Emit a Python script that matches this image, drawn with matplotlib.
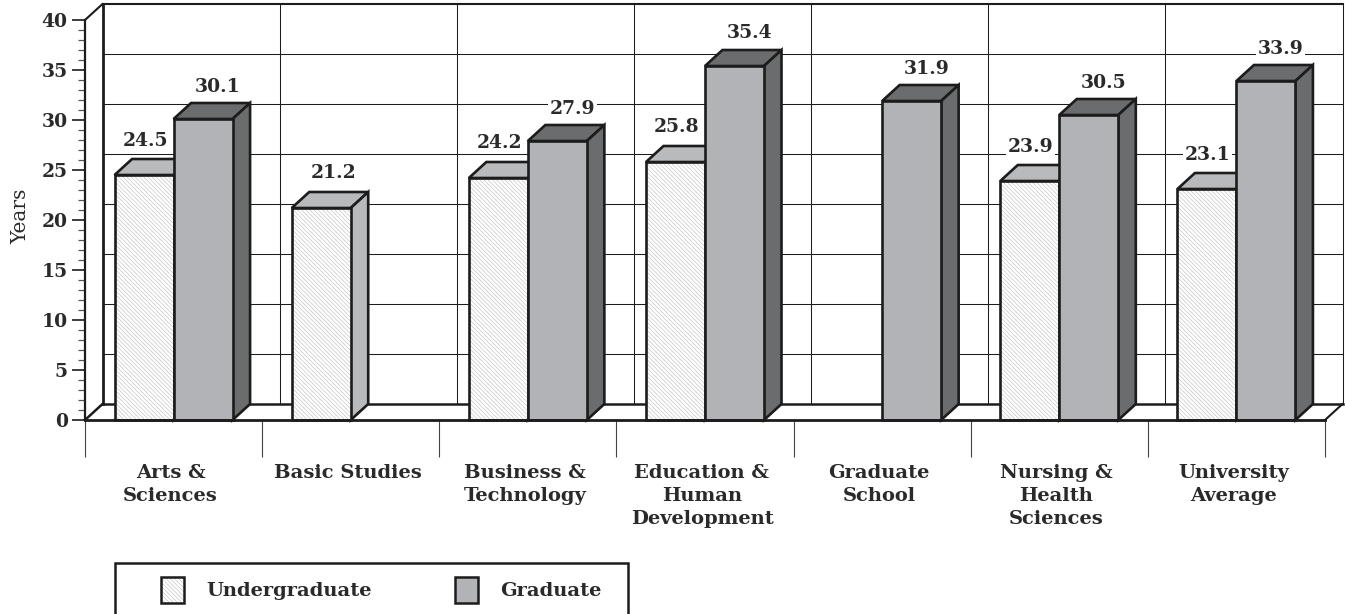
import numpy as np
import matplotlib
matplotlib.use("Agg")
import matplotlib.pyplot as plt
from matplotlib.patches import Polygon, Rectangle, Patch
from matplotlib.legend_handler import HandlerTuple
from matplotlib.transforms import ScaledTranslation

categories = ["Arts &\nSciences", "Basic Studies", "Business &\nTechnology",
              "Education &\nHuman\nDevelopment", "Graduate\nSchool",
              "Nursing &\nHealth\nSciences", "University\nAverage"]
undergraduate = [24.5, 21.2, 24.2, 25.8, np.nan, 23.9, 23.1]
graduate = [30.1, np.nan, 27.9, 35.4, 31.9, 30.5, 33.9]

W, H = 1345, 614
FONT = "DejaVu Serif"
INK = "#2a2a2a"
LINE = "#1c1c1c"
HATCH = "\\\\\\\\\\\\\\\\"
HATCH_COL = "#b0b0b0"
plt.rcParams["font.family"] = FONT
plt.rcParams["font.weight"] = "bold"
plt.rcParams["hatch.linewidth"] = 0.35

fig = plt.figure(figsize=(W / 100, H / 100), dpi=100, facecolor="white")
ax = fig.add_axes([85 / W, 1 - 420 / H, 1240 / W, 400 / H])
n = len(categories)
ax.set_xlim(0, n)
ax.set_ylim(0, 40)
ax.patch.set_visible(False)

dx = 17.5 / (1240 / n)
dy = 1.6
bw = 59 / (1240 / n)

# back wall, grid, floor
for v in range(5, 40, 5):
    ax.plot([dx, n + dx], [v + dy, v + dy], color=LINE, lw=0.75, zorder=1, clip_on=False)
for c in range(1, n + 1):
    ax.plot([c + dx, c + dx], [dy, 40 + dy], color=LINE, lw=0.75, zorder=1, clip_on=False)
ax.plot([dx, dx], [dy, 40 + dy], color=LINE, lw=2, zorder=1.5, clip_on=False)
ax.plot([dx, n + dx], [40 + dy, 40 + dy], color=LINE, lw=1.5, zorder=1.5, clip_on=False)
ax.plot([dx, n + dx], [dy, dy], color=LINE, lw=1.8, zorder=1.5, clip_on=False)
ax.plot([0, dx], [40, 40 + dy], color=LINE, lw=1.5, zorder=1.5, clip_on=False)
ax.plot([0, dx], [0, dy], color=LINE, lw=1.8, zorder=1.5, clip_on=False)
ax.plot([n, n + dx], [0, dy], color=LINE, lw=1.5, zorder=1.5, clip_on=False)


def bar3d(x0, v, front_hatched, top_col, side_col, z):
    ec = dict(edgecolor=LINE, linewidth=1.9, joinstyle="miter", zorder=z, clip_on=False)
    ax.add_patch(Polygon([(x0, v), (x0 + bw, v), (x0 + bw + dx, v + dy), (x0 + dx, v + dy)],
                         closed=True, facecolor=top_col, **ec))
    ax.add_patch(Polygon([(x0 + bw, 0), (x0 + bw + dx, dy), (x0 + bw + dx, v + dy), (x0 + bw, v)],
                         closed=True, facecolor=side_col, **ec))
    if front_hatched:
        ax.bar(x0, v, bw, align="edge", color="white", edgecolor=HATCH_COL, hatch=HATCH,
               linewidth=0, zorder=z, clip_on=False)
        ax.bar(x0, v, bw, align="edge", fill=False, edgecolor=LINE, linewidth=1.9, zorder=z, clip_on=False)
    else:
        ax.bar(x0, v, bw, align="edge", color="#b2b3b7", edgecolor=LINE, linewidth=1.9, zorder=z, clip_on=False)


def label(x, v, off_x, off_y):
    ax.annotate(f"{v:.1f}", (x, v), xytext=(off_x * 0.72, off_y * 0.72), textcoords="offset points",
                ha="center", va="center", fontsize=13.5, color=INK, zorder=50,
                bbox=dict(facecolor="white", edgecolor="none", pad=1.2), annotation_clip=False)


for i in range(n):
    c = i + 0.5
    u, g = undergraduate[i], graduate[i]
    z = 10 + i * 3
    if not np.isnan(u):
        bar3d(c - bw, u, True, "#b9babc", "#b9babc", z)
        label(c - bw / 2, u, 1 if not np.isnan(g) else 12, 34.5)
    if not np.isnan(g):
        bar3d(c, g, False, "#6b6c6e", "#6b6c6e", z + 1)
        label(c + bw / 2, g, 15, 32.5)

# axes
for s in ("top", "right"):
    ax.spines[s].set_visible(False)
ax.spines["left"].set_linewidth(1.6)
ax.spines["left"].set_color(LINE)
ax.spines["bottom"].set_linewidth(2)
ax.spines["bottom"].set_color(LINE)
ax.spines["bottom"].set_zorder(40)
ax.spines["left"].set_zorder(40)

ax.set_yticks(np.arange(0, 41, 5))
ax.set_yticks(np.arange(0, 41, 1), minor=True)
ax.tick_params(axis="y", which="major", length=9.5, width=1.2, color=LINE, pad=3,
               labelsize=13.5, labelcolor=INK)
ax.tick_params(axis="y", which="minor", length=5, width=0.9, color="#555555")
ax.set_ylabel("Years", fontsize=14.5, color=INK)
ax.yaxis.set_label_coords((30 - 85) / 1240, (420 - 216) / 400)

ax.set_xticks(np.arange(0, n + 1))
ax.set_xticklabels([""] * (n + 1))
ax.set_xticks(np.arange(n) + 0.5, minor=True)
ax.set_xticklabels(categories, minor=True, fontsize=14, color=INK, linespacing=1.35)
ax.tick_params(axis="x", which="major", length=26.6, width=0.8, color="#444444")
ax.tick_params(axis="x", which="minor", length=0, pad=32)
shift = ScaledTranslation(-3 / 100, 0, fig.dpi_scale_trans)
for t in ax.get_xticklabels(minor=True):
    t.set_transform(t.get_transform() + shift)

# legend
fig.add_artist(Rectangle((115 / W, 1 - 640 / H), 513 / W, 77 / H, transform=fig.transFigure,
                         facecolor="white", edgecolor=LINE, linewidth=1.8))
under_handle = (Patch(facecolor="white", edgecolor=HATCH_COL, linewidth=0, hatch=HATCH),
                Patch(fill=False, edgecolor=LINE, linewidth=1.8))
grad_handle = Patch(facecolor="#b2b3b7", edgecolor=LINE, linewidth=1.8)
leg = fig.legend(handles=[under_handle, grad_handle], labels=["Undergraduate", "Graduate"],
                 handler_map={tuple: HandlerTuple(ndivide=1, pad=0)},
                 ncol=2, frameon=False, fontsize=14,
                 loc="center left", bbox_to_anchor=(161 / W, 1 - 590 / H), borderpad=0, borderaxespad=0,
                 handlelength=1.18, handleheight=1.74, handletextpad=1.13, columnspacing=4.3,
                 labelcolor=INK)
fig.savefig("out.png", dpi=100)
